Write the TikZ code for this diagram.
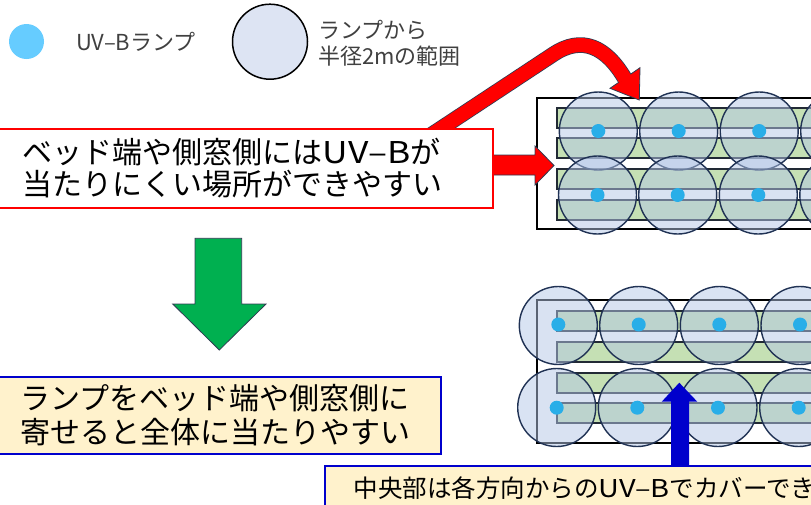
\documentclass[tikz,border=0pt]{standalone}
\usepackage{fontspec}
\usepackage{graphicx}
\setmainfont{Noto Sans CJK JP}
\definecolor{lampblue}{HTML}{29AEE8}
\definecolor{legdot}{HTML}{66CCFF}
\definecolor{bedgreen}{HTML}{C5E0B4}
\definecolor{circfill}{HTML}{B4C7E7}
\definecolor{legcirc}{HTML}{DDE4F3}
\definecolor{circline}{HTML}{203254}
\definecolor{stripline}{HTML}{222A35}
\definecolor{arrred}{HTML}{FF0000}
\definecolor{outl}{HTML}{2F3B52}
\definecolor{boxblue}{HTML}{0000CC}
\definecolor{beige}{HTML}{FFF2CC}
\definecolor{arrgreen}{HTML}{00B050}
\definecolor{txtgray}{HTML}{404040}
\newcommand{\wideuvb}{\scalebox{1.18}[1]{UV–B}}
\begin{document}
\begin{tikzpicture}[x=1pt,y=-1pt,
  outerbed/.style={draw=black, line width=2pt, fill=white},
  stripbox/.style={draw=stripline, line width=1.8pt, fill=bedgreen},
  lampzone/.style={fill=circfill, fill opacity=0.5, draw=circline, line width=1.4pt, draw opacity=1},
  lampdot/.style={fill=lampblue, draw=none},
  legtext/.style={text=txtgray, inner sep=0pt, font=\fontsize{22}{26}\selectfont},
  shapearrow/.style={draw=outl, line width=0.8pt},
  warnbox/.style={draw=arrred, line width=2pt, fill=white, inner ysep=0pt, align=left, font=\fontsize{30}{32}\selectfont},
  notebox/.style={draw=boxblue, line width=2pt, fill=beige, inner ysep=0pt, align=left}
]
\useasboundingbox (0,0) rectangle (811,504);
\clip (0,0) rectangle (811,504);

% legend
\fill[legdot] (26.5,41.5) circle[radius=17.5pt];
\node[legtext, anchor=west] (leglamp) at (76,42) {UV–Bランプ};
\draw[fill=legcirc, draw=black, line width=1.5pt] (270,41.7) circle[radius=37.5pt];
\node[legtext, anchor=west, align=left] (legrange) at (318,43) {ランプから\\半径2mの範囲};

% top diagram
\draw[outerbed] (537,97.5) rectangle (840,229.3);
\foreach \ya/\yb in {107.7/128.3, 138.3/158.3, 169.3/189.3, 200/220}
  \draw[stripbox] (557,\ya) rectangle (840,\yb);
\foreach \cx in {598.3,678.7,759.2,839.7} {
  \draw[lampzone] (\cx,131) circle[radius=39pt];
}
\foreach \cx in {597.5,677.7,758.3,838.8} {
  \draw[lampzone] (\cx,195) circle[radius=39pt];
}
\foreach \cx in {598.3,678.7,759.2} \fill[lampdot] (\cx,131) circle[radius=7pt];
\foreach \cx in {597.5,677.7,758.3} \fill[lampdot] (\cx,195) circle[radius=7pt];

% bottom diagram
\draw[outerbed] (536.7,300) rectangle (840,442.7);
\foreach \ya/\yb in {310.7/330.7, 341.7/361.7, 372.7/392.7, 403.3/422.7}
  \draw[stripbox] (556.7,\ya) rectangle (840,\yb);
\foreach \cx in {558.3,638.7,719.3,800} {
  \draw[lampzone] (\cx,325.5) circle[radius=39pt];
}
\foreach \cx in {556.7,637.3,718,798.7} {
  \draw[lampzone] (\cx,407.5) circle[radius=39pt];
}
\foreach \cx in {558.3,638.7,719.3,800} \fill[lampdot] (\cx,324.5) circle[radius=7pt];
\foreach \cx in {556.7,637.3,718,798.7} \fill[lampdot] (\cx,407.7) circle[radius=7pt];

% curved red arrow
\coordinate (cstart) at (431,135);
\coordinate (cbend) at (553,54.5);
\coordinate (cend) at (624.5,78);
\draw[outl, line width=15.6pt] (cstart) -- (cbend) .. controls (582,35) and (606,47) .. (cend);
\draw[shapearrow, fill=arrred] (610,88.3) -- (640,67.7) -- (639.3,100) -- cycle;
\draw[arrred, line width=14pt] (cstart) -- (cbend) .. controls (582,35) and (606,47) .. (cend) -- (625.3,79.5);

% straight red arrow
\draw[shapearrow, fill=arrred] (480,155) -- (535,155) -- (535,146) -- (554,165.5) -- (535,185) -- (535,175) -- (480,175) -- cycle;

% red box
\node[warnbox, anchor=north west, minimum width=494pt, minimum height=79pt, inner xsep=24pt, text width=446pt] (warn) at (-2,128)
  {ベッド端や側窓側には\wideuvb が\\当たりにくい場所ができやすい};

% green arrow
\draw[shapearrow, fill=arrgreen] (195,238.3) -- (241.7,238.3) -- (241.7,304) -- (266,304) -- (219.3,350) -- (172.7,304) -- (195,304) -- cycle;

% beige box
\node[notebox, anchor=north west, minimum width=442pt, minimum height=77pt, inner xsep=21pt, text width=400pt, font=\fontsize{30}{34}\selectfont] (advice) at (-2,376)
  {ランプをベッド端や側窓側に\\寄せると全体に当たりやすい};

% blue arrow
\fill[boxblue] (671,470) -- (671,401.7) -- (661.7,401.7) -- (679.3,382.7) -- (697.3,401.7) -- (689,401.7) -- (689,470) -- cycle;

% bottom box
\node[notebox, anchor=north west, minimum width=520pt, minimum height=44pt, inner xsep=28.5pt, font=\fontsize{24.5}{28}\selectfont] (center) at (323.5,465)
  {中央部は各方向からの\wideuvb でカバーでき};
\end{tikzpicture}
\end{document}
